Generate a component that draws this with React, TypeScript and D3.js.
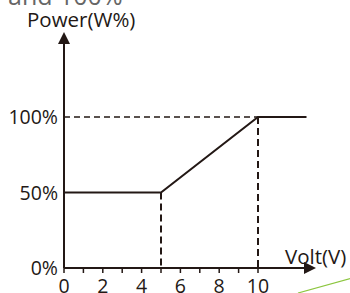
import React from "react";
import * as d3 from "d3";

const voltValues = [0, 5, 10, 12.5];
const powerValues = [50, 50, 100, 100];
const xTickValues = [0, 1, 2, 3, 4, 5, 6, 7, 8, 9, 10];
const xTickLabels = ["0", "2", "4", "6", "8", "10"];
const yTickValues = [0, 50, 100];
const yTickLabels = ["0%", "50%", "100%"];
const dashedVolts = [5, 10];

const W = 350;
const H = 293;
const INK = "#231815";
const FONT = "'Open Sans', 'Noto Sans', sans-serif";

export default function App() {
  const x = d3.scaleLinear().domain([0, 10]).range([64, 258]);
  const y = d3.scaleLinear().domain([0, 100]).range([268, 117]);
  const line = d3
    .line<number>()
    .x((_, i) => x(voltValues[i]))
    .y((d) => y(d));
  const path = line(powerValues) || "";

  return (
    <svg
      width={W}
      height={H}
      style={{ position: "absolute", left: 0, top: 0, background: "#fff" }}
    >
      <text x={8} y={5} fontFamily={FONT} fontSize={25} fill="#666">
        and 100%
      </text>
      <text x={27} y={27} fontFamily={FONT} fontSize={20.5} fill={INK}>
        Power(W%)
      </text>

      {/* dashed reference lines */}
      <line
        x1={x(0)}
        x2={x(10)}
        y1={y(100)}
        y2={y(100)}
        stroke={INK}
        strokeWidth={1.5}
        strokeDasharray="6,4"
      />
      {dashedVolts.map((v, i) => (
        <line
          key={v}
          x1={x(v)}
          x2={x(v)}
          y1={y(powerValues[i + 1])}
          y2={y(0)}
          stroke={INK}
          strokeWidth={2}
          strokeDasharray="7,4"
        />
      ))}

      {/* y axis */}
      <line x1={x(0)} x2={x(0)} y1={y(0)} y2={42} stroke={INK} strokeWidth={2} />
      <path
        d={`M${x(0)},32 L${x(0) - 6},44 L${x(0) + 6},44 Z`}
        fill={INK}
      />
      {yTickValues.map((v, i) => (
        <text
          key={v}
          x={58}
          y={y(v)}
          dy="0.36em"
          textAnchor="end"
          fontFamily={FONT}
          fontSize={19.5}
          fill={INK}
        >
          {yTickLabels[i]}
        </text>
      ))}

      {/* x axis */}
      <line x1={x(0)} x2={306} y1={y(0)} y2={y(0)} stroke={INK} strokeWidth={2} />
      <path
        d={`M316,${y(0)} L304,${y(0) - 6} L304,${y(0) + 6} Z`}
        fill={INK}
      />
      {xTickValues.map((v) => (
        <line
          key={v}
          x1={x(v)}
          x2={x(v)}
          y1={y(0)}
          y2={y(0) + 5}
          stroke={INK}
          strokeWidth={1.5}
        />
      ))}
      {xTickLabels.map((t) => (
        <text
          key={t}
          x={x(+t)}
          y={293}
          textAnchor="middle"
          fontFamily={FONT}
          fontSize={19.5}
          fill={INK}
        >
          {t}
        </text>
      ))}
      <text x={285} y={264} fontFamily={FONT} fontSize={20.5} fill={INK}>
        Volt(V)
      </text>

      {/* curve */}
      <path d={path} fill="none" stroke={INK} strokeWidth={2} />

      {/* stray green stroke */}
      <line x1={298} y1={293} x2={352} y2={278} stroke="#8cc63f" strokeWidth={1.2} />
    </svg>
  );
}
